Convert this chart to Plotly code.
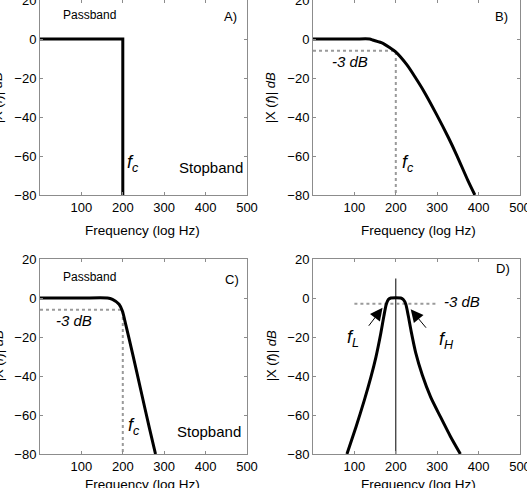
import plotly.graph_objects as go

FONT = "Liberation Sans, Arial, sans-serif"

# ideal low-pass (A)
freq_a = [0, 200, 200]
mag_a = [0, 0, -80]

# gentle low-pass (B)
freq_b = [0, 100, 137, 144, 169, 185, 199, 227, 248, 267, 298, 327, 347, 374, 391]
mag_b = [0, 0, 0, -0.5, -2.2, -4.4, -6.5, -13.3, -20, -26.5, -38.5, -50.5, -59.5, -72.5, -80]

# steep low-pass (C)
freq_c = [0, 100, 163, 175, 191, 199, 207, 224, 244, 264, 279]
mag_c = [0, 0, 0, -0.7, -3.2, -6.7, -13.5, -28.9, -47.7, -66.5, -80]

# band-pass (D)
freq_d = [82, 104, 124, 140, 152, 163, 171, 177, 182, 188, 212, 218, 224, 230,
          237, 248, 264, 284, 308, 332, 356]
mag_d = [-80, -66, -52.4, -40.5, -30.3, -19, -9.5, -3.2, -0.8, 0, 0, -0.8, -3.1, -9,
         -17, -28, -39.5, -50.7, -61, -71, -80]

# -3 dB guide lines
guide_b_x = [0, 200, 200]
guide_b_y = [-6, -6, -80]
guide_c_x = [0, 200, 200]
guide_c_y = [-6, -6, -80]
guide_d_x = [100, 300]
guide_d_y = [-3, -3]
centre_d_x = [200, 200]
centre_d_y = [10, -80]

freq_ticks = [100, 200, 300, 400, 500]
freq_tick_text = ["100", "200", "300", "400", "500"]
mag_ticks = [-80, -60, -40, -20, 0, 20]
mag_tick_text = ["\u221280", "\u221260", "\u221240", "\u221220", "0", "20"]

W, H = 527, 488

fig = go.Figure()


def line(x, y, ax, color="black", width=3, dash="solid", shape="linear"):
    fig.add_trace(go.Scatter(x=x, y=y, mode="lines", xaxis="x" + ax, yaxis="y" + ax,
                             line=dict(color=color, width=width, dash=dash, shape=shape,
                                       smoothing=0.7),
                             showlegend=False, hoverinfo="skip"))


GUIDE = "#9a9a9a"
line(freq_a, mag_a, "")
line(guide_b_x, guide_b_y, "2", GUIDE, 2, "dot")
line(freq_b, mag_b, "2", shape="spline")
line(guide_c_x, guide_c_y, "3", GUIDE, 2, "dot")
line(freq_c, mag_c, "3", shape="spline")
line(centre_d_x, centre_d_y, "4", "black", 1)
line(guide_d_x, guide_d_y, "4", GUIDE, 2, "dot")
line(freq_d, mag_d, "4", shape="spline")

axis = dict(showgrid=False, zeroline=False, showline=True, linecolor="#8c8c8c", linewidth=1,
            mirror="ticks", ticks="inside", ticklen=3, tickcolor="#8c8c8c",
            ticklabeloverflow="allow",
            tickfont=dict(size=13, color="black", family=FONT))

cols = [[40 / W, 247 / W], [313 / W, 520 / W]]
rows = [[1 - 195 / H, 1.0], [1 - 454 / H, 1 - 259 / H]]
names = ["", "2", "3", "4"]
layout = {}
for i, n in enumerate(names):
    c = cols[i % 2]
    r = rows[i // 2]
    layout["xaxis" + n] = dict(axis, domain=c, range=[0, 500], tickvals=freq_ticks,
                               ticktext=freq_tick_text, anchor="y" + n)
    layout["yaxis" + n] = dict(axis, domain=r, range=[-80, 20], tickvals=mag_ticks,
                               ticktext=mag_tick_text, anchor="x" + n)

ann = []


def text(t, x, y, ax, size=12, **kw):
    ann.append(dict(text=t, x=x, y=y, xref="x" + ax, yref="y" + ax, showarrow=False,
                    font=dict(size=size, color="black", family=FONT), **kw))


text("A)", 461, 11.5, "", 13)
text("B)", 456, 11.5, "2", 13)
text("C)", 463, 9.7, "3", 13)
text("D)", 458, 14.9, "4", 13)
text("Passband", 120, 12.3, "", 12)
text("Passband", 120, 10.6, "3", 12)
text("Stopband", 413, -65.8, "", 15)
text("Stopband", 408, -68.5, "3", 15)
fc = "<i>f<sub>c</sub></i>"
text(fc, 224, -63.7, "", 18)
text(fc, 230, -63.7, "2", 18)
text(fc, 227, -66, "3", 18)
text("<i>-3 dB</i>", 89, -11.6, "2", 15)
text("<i>-3 dB</i>", 81, -11.3, "3", 15)
text("<i>-3 dB</i>", 360, -1.7, "4", 15)
text("<i>f<sub>L</sub></i>", 96, -21, "4", 18)
text("<i>f<sub>H</sub></i>", 322, -22, "4", 18)

for hx, hy, tx, ty in [(168, -5, 132, -15), (236, -5.8, 276, -16)]:
    ann.append(dict(x=hx, y=hy, ax=tx, ay=ty, xref="x4", yref="y4", axref="x4", ayref="y4",
                    text="", showarrow=True, arrowhead=2, arrowsize=2.5, arrowwidth=1,
                    arrowcolor="black"))

xt = "Frequency (log Hz)"
yt = "|X (<i>f</i>)| <i>dB</i>"
for cx, cy in [(142.7, 230), (418, 230), (142.7, 484.7), (418, 484.7)]:
    ann.append(dict(text=xt, x=cx / W, y=1 - cy / H, xref="paper", yref="paper",
                    showarrow=False, xanchor="center", yanchor="middle",
                    font=dict(size=13.5, color="black", family=FONT)))
for cx, cy in [(-1.7, 98), (271.3, 98), (-1.7, 356), (271.3, 356)]:
    ann.append(dict(text=yt, x=cx / W, y=1 - cy / H, xref="paper", yref="paper",
                    showarrow=False, xanchor="center", yanchor="middle", textangle=-90,
                    font=dict(size=13, color="black", family=FONT)))

fig.update_layout(width=W, height=H, margin=dict(l=0, r=0, t=0, b=0, autoexpand=False),
                  paper_bgcolor="white", plot_bgcolor="white",
                  font=dict(family=FONT, color="black"), annotations=ann, **layout)

# drop the browser's default 8px page margin so the figure sits at the window corner
fig.write_html("out.html", config={"displayModeBar": False},
               post_script="document.body.style.margin='0';"
                           "document.body.style.overflow='hidden';")
